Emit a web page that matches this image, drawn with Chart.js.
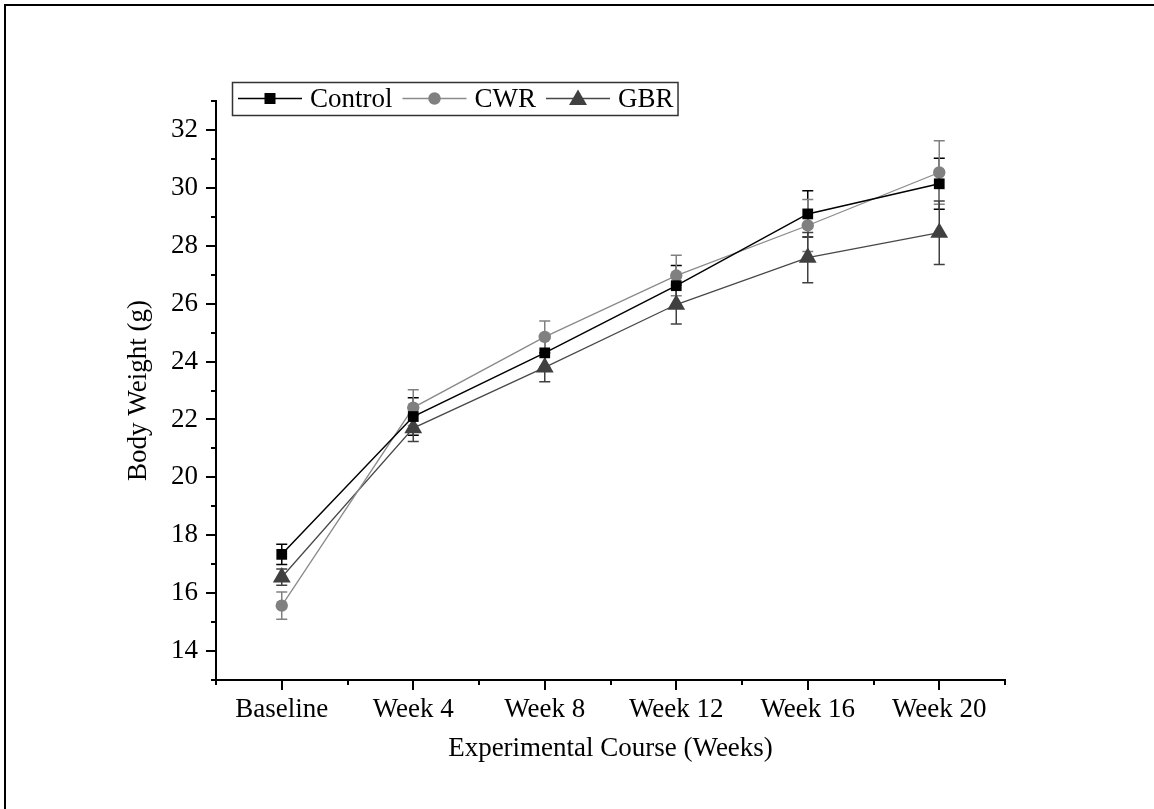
<!DOCTYPE html>
<html>
<head>
<meta charset="utf-8">
<script src="https://cdn.jsdelivr.net/npm/chart.js@4.4.0/dist/chart.umd.min.js"></script>
<style>
  html, body { margin: 0; padding: 0; background: #fff; }
  #wrap { position: relative; width: 1154px; height: 809px; }
  canvas { display: block; }
</style>
</head>
<body>
<div id="wrap"><canvas id="c" width="1154" height="809"></canvas></div>
<script>
// ---- data ----
const categories = ["Baseline", "Week 4", "Week 8", "Week 12", "Week 16", "Week 20"];
const controlMean = [17.34, 22.1, 24.3, 26.62, 29.1, 30.14];
const controlErr  = [0.35, 0.65, 0.5, 0.7, 0.8, 0.88];
const cwrMean     = [15.57, 22.41, 24.85, 26.97, 28.7, 30.53];
const cwrErr      = [0.47, 0.62, 0.55, 0.7, 0.9, 1.1];
const gbrMean     = [16.55, 21.7, 23.8, 25.97, 27.59, 28.45];
const gbrErr      = [0.28, 0.46, 0.5, 0.67, 0.87, 1.1];
const yTickValues = [14, 16, 18, 20, 22, 24, 26, 28, 30, 32];
const yMinorTicks = [13, 15, 17, 19, 21, 23, 25, 27, 29, 31, 33];
const xMinorTicks = [-0.5, 0.5, 1.5, 2.5, 3.5, 4.5, 5.5];

const FONT = "'Liberation Serif', 'Times New Roman', serif";

function toPts(arr) { return arr.map((v, i) => ({ x: i, y: v })); }

const seriesDefs = [
  { label: "Control", mean: controlMean, err: controlErr, color: "#000000", line: "#000000", style: "rect", r: 7.6, lw: 1.5 },
  { label: "CWR", mean: cwrMean, err: cwrErr, color: "#808080", line: "#8a8a8a", style: "circle", r: 6.2, lw: 1.3 },
  { label: "GBR", mean: gbrMean, err: gbrErr, color: "#404040", line: "#484848", style: "triangle", r: 10.3, lw: 1.3 }
];

const datasets = seriesDefs.map(s => ({
  label: s.label,
  data: toPts(s.mean),
  errs: s.err,
  borderColor: s.line,
  backgroundColor: s.color,
  pointBackgroundColor: s.color,
  pointBorderColor: s.color,
  pointBorderWidth: 0,
  pointStyle: s.style,
  pointRadius: s.r,
  borderWidth: s.lw,
  tension: 0,
  fill: false
}));

const errorBars = {
  id: "errorBars",
  beforeDatasetsDraw(chart) {
    const ctx = chart.ctx;
    const xs = chart.scales.x, ys = chart.scales.y;
    chart.data.datasets.forEach((ds) => {
      ctx.save();
      ctx.strokeStyle = ds.backgroundColor;
      ctx.lineWidth = 1.5;
      ds.data.forEach((p, i) => {
        const e = ds.errs[i];
        const px = xs.getPixelForValue(p.x);
        const yt = ys.getPixelForValue(p.y + e);
        const yb = ys.getPixelForValue(p.y - e);
        ctx.beginPath();
        ctx.moveTo(px, yt); ctx.lineTo(px, yb);
        ctx.moveTo(px - 5.5, yt); ctx.lineTo(px + 5.5, yt);
        ctx.moveTo(px - 5.5, yb); ctx.lineTo(px + 5.5, yb);
        ctx.stroke();
      });
      ctx.restore();
    });
  }
};

const minorTicks = {
  id: "minorTicks",
  afterDraw(chart) {
    const ctx = chart.ctx;
    const xs = chart.scales.x, ys = chart.scales.y;
    ctx.save();
    ctx.strokeStyle = "#000";
    ctx.lineWidth = 2;
    ctx.beginPath();
    yMinorTicks.forEach(v => {
      const py = Math.round(ys.getPixelForValue(v));
      ctx.moveTo(xs.left, py); ctx.lineTo(xs.left - 5, py);
    });
    xMinorTicks.forEach(v => {
      const px = Math.round(xs.getPixelForValue(v));
      ctx.moveTo(px, ys.bottom); ctx.lineTo(px, ys.bottom + 5);
    });
    ctx.stroke();
    ctx.restore();
  }
};

const frameAndLegend = {
  id: "frameAndLegend",
  afterDraw(chart) {
    const ctx = chart.ctx;
    ctx.save();
    // outer frame (top & left)
    ctx.strokeStyle = "#000";
    ctx.lineWidth = 2;
    ctx.beginPath();
    ctx.moveTo(5, 809); ctx.lineTo(5, 5); ctx.lineTo(1154, 5);
    ctx.stroke();

    // legend
    ctx.font = "27px " + FONT;
    ctx.textBaseline = "middle";
    const top = 82, h = 33, cy = top + h / 2;
    let x = 238;
    const items = [];
    seriesDefs.forEach(s => {
      items.push({ s, x });
      x += 64 + 8 + ctx.measureText(s.label).width + 10;
    });
    const right = x - 6;
    ctx.fillStyle = "#fff";
    ctx.fillRect(232, top, right - 232, h);
    ctx.strokeStyle = "#333";
    ctx.lineWidth = 1.5;
    ctx.strokeRect(232.5, top + 0.5, right - 232, h);
    items.forEach(({ s, x }) => {
      ctx.strokeStyle = s.line;
      ctx.lineWidth = s.lw;
      ctx.beginPath();
      ctx.moveTo(x, cy); ctx.lineTo(x + 64, cy);
      ctx.stroke();
      const mx = x + 32;
      ctx.fillStyle = s.color;
      ctx.beginPath();
      if (s.style === "rect") {
        ctx.fillRect(mx - 5.5, cy - 5.5, 11, 11);
      } else if (s.style === "circle") {
        ctx.arc(mx, cy, 6.2, 0, Math.PI * 2); ctx.fill();
      } else {
        ctx.moveTo(mx, cy - 9); ctx.lineTo(mx + 9, cy + 6.5); ctx.lineTo(mx - 9, cy + 6.5); ctx.closePath(); ctx.fill();
      }
      ctx.fillStyle = "#000";
      ctx.textAlign = "left";
      ctx.fillText(s.label, x + 72, cy + 1);
    });
    ctx.restore();
  }
};

new Chart(document.getElementById("c"), {
  type: "line",
  data: { datasets },
  options: {
    responsive: false,
    animation: false,
    layout: { padding: { top: 101, right: 149, left: 110, bottom: 44 } },
    plugins: { legend: { display: false }, tooltip: { enabled: false } },
    scales: {
      x: {
        type: "linear",
        min: -0.5, max: 5.5,
        afterBuildTicks: (sc) => { sc.ticks = categories.map((c, i) => ({ value: i })); },
        afterFit: (sc) => { sc.height = 85; },
        ticks: {
          callback: (v) => categories[v] ?? "",
          color: "#000",
          font: { family: FONT, size: 27 },
          padding: 4,
          maxRotation: 0, autoSkip: false
        },
        grid: { display: true, drawOnChartArea: false, drawTicks: true, tickLength: 10, color: "#000", lineWidth: 2 },
        border: { display: true, color: "#000", width: 2 },
        title: { display: true, text: "Experimental Course (Weeks)", color: "#000", font: { family: FONT, size: 27 }, padding: { top: 0, bottom: 0 } }
      },
      y: {
        type: "linear",
        min: 13, max: 33,
        afterBuildTicks: (sc) => { sc.ticks = yTickValues.map(v => ({ value: v })); },
        afterFit: (sc) => { sc.width = 106; },
        ticks: {
          color: "#000",
          font: { family: FONT, size: 27 },
          padding: 8
        },
        grid: { display: true, drawOnChartArea: false, drawTicks: true, tickLength: 10, color: "#000", lineWidth: 2 },
        border: { display: true, color: "#000", width: 2 },
        title: { display: true, text: "Body Weight (g)", color: "#000", font: { family: FONT, size: 27 }, padding: { top: 13, bottom: 0 } }
      }
    }
  },
  plugins: [errorBars, minorTicks, frameAndLegend]
});
</script>
</body>
</html>
